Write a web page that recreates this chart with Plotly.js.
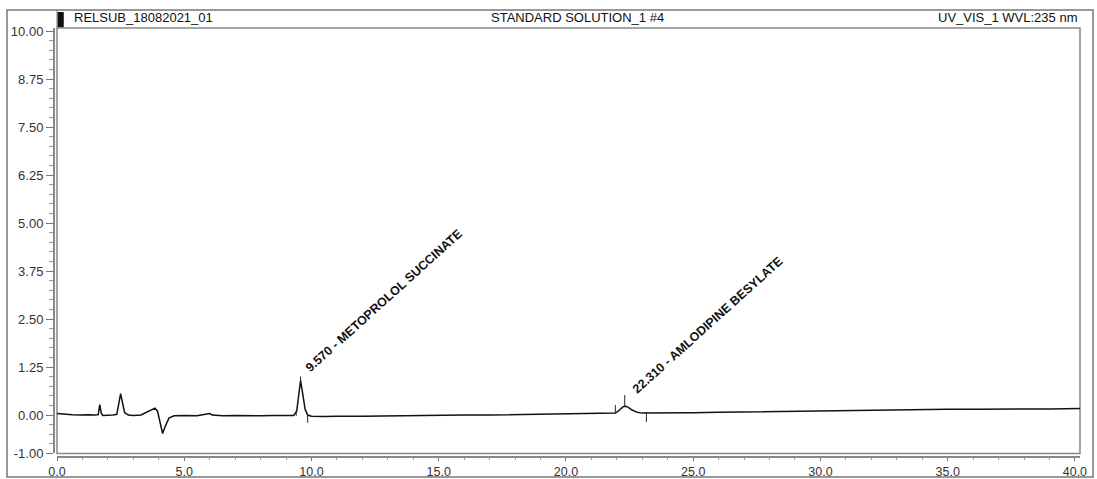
<!DOCTYPE html>
<html>
<head>
<meta charset="utf-8">
<script src="https://cdn.plot.ly/plotly-3.0.1.min.js"></script>
<style>
html,body{margin:0;padding:0;background:#fff;}
#chart{width:1097px;height:479px;}
</style>
</head>
<body>
<div id="chart"></div>
<script>
// Retention time (min) and signal
var timeMin = [0.0,0.3,0.6,0.9,1.2,1.5,1.62,1.68,1.74,1.8,2.0,2.2,2.35,2.42,2.5,2.58,2.66,2.8,3.0,3.3,3.5,3.7,3.85,3.95,4.05,4.15,4.25,4.4,4.6,5.0,5.5,5.9,6.0,6.1,6.5,7.0,7.5,8.0,8.5,9.0,9.3,9.42,9.5,9.57,9.65,9.75,9.85,10.0,10.5,11.0,12.0,13.0,14.0,15.0,16.0,17.0,18.0,19.0,20.0,21.0,21.5,21.94,22.05,22.15,22.25,22.35,22.45,22.6,22.8,23.0,23.2,24.0,25.0,26.0,27.0,28.0,29.0,30.0,31.0,32.0,33.0,34.0,35.0,36.0,37.0,38.0,39.0,40.0,40.2];
var signal  = [0.04,0.02,0.01,0.0,0.01,0.0,0.01,0.27,0.05,-0.01,-0.01,0.0,0.02,0.3,0.56,0.3,0.06,0.0,-0.01,0.0,0.07,0.13,0.18,0.1,-0.2,-0.48,-0.3,-0.08,-0.02,-0.01,-0.02,0.02,0.04,0.0,-0.02,-0.01,-0.02,-0.02,-0.01,-0.02,-0.01,0.1,0.58,0.9,0.58,0.15,0.0,-0.03,-0.04,-0.03,-0.03,-0.02,-0.02,-0.01,0.0,0.0,0.01,0.02,0.02,0.03,0.04,0.05,0.1,0.17,0.22,0.23,0.2,0.13,0.07,0.05,0.05,0.05,0.06,0.07,0.08,0.09,0.1,0.11,0.12,0.12,0.13,0.14,0.15,0.15,0.16,0.16,0.16,0.17,0.17];

// Peak delimiter marks (time, top, bottom)
var delimTime = [9.4, 9.57, 9.85, 21.94, 22.31, 23.16];
var delimTop  = [0.12, 1.0, 0.0, 0.26, 0.52, 0.08];
var delimBot  = [-0.02, 0.85, -0.2, 0.04, 0.23, -0.18];

// Peak labels
var peakTime  = [9.57, 22.31];
var peakValue = [0.92, 0.3];
var peakLabel = ["9.570 - METOPROLOL SUCCINATE", "22.310 - AMLODIPINE BESYLATE"];

// Tick labels
var yTickVals = [-1.0, 0.0, 1.25, 2.5, 3.75, 5.0, 6.25, 7.5, 8.75, 10.0];
var yTickText = ["-1.00","0.00","1.25","2.50","3.75","5.00","6.25","7.50","8.75","10.00"];
var xTickVals = [0, 5, 10, 15, 20, 25, 30, 35, 40];
var xTickText = ["0.0","5.0","10.0","15.0","20.0","25.0","30.0","35.0","40.0"];

// Header texts
var headerLeft = "RELSUB_18082021_01";
var headerCenter = "STANDARD SOLUTION_1 #4";
var headerRight = "UV_VIS_1 WVL:235 nm";

var dx = [], dy = [];
for (var i = 0; i < delimTime.length; i++) {
  dx.push(delimTime[i], delimTime[i], null);
  dy.push(delimTop[i], delimBot[i], null);
}

var font = "Liberation Sans, Arial, sans-serif";

var traces = [
  {x: timeMin, y: signal, type: 'scatter', mode: 'lines',
   line: {color: '#111', width: 1.5}, hoverinfo: 'skip'},
  {x: dx, y: dy, type: 'scatter', mode: 'lines',
   line: {color: '#222', width: 1}, hoverinfo: 'skip'}
];

var annotations = [];
for (var k = 0; k < peakTime.length; k++) {
  annotations.push({
    x: peakTime[k], y: peakValue[k], xref: 'x', yref: 'y',
    text: peakLabel[k], showarrow: true, arrowcolor: 'rgba(0,0,0,0)',
    ax: 83, ay: -79, textangle: -42,
    font: {family: font, size: 12.5, color: '#111', weight: 'bold'}
  });
}
// paper area: x 53..1080 (1027 px), y 28..456 (428 px)
annotations.push(
  {xref: 'paper', yref: 'paper', x: 0.0185, y: 1.0257, xanchor: 'left', yanchor: 'middle',
   text: headerLeft, showarrow: false, font: {family: font, size: 13, color: '#111'}},
  {xref: 'paper', yref: 'paper', x: 0.5105, y: 1.0257, xanchor: 'center', yanchor: 'middle',
   text: headerCenter, showarrow: false, font: {family: font, size: 13, color: '#111'}},
  {xref: 'paper', yref: 'paper', x: 0.9995, y: 1.0257, xanchor: 'right', yanchor: 'middle',
   text: headerRight, showarrow: false, font: {family: font, size: 13, color: '#111'}}
);

var shapes = [
  // outer frame
  {type: 'rect', xref: 'paper', yref: 'paper', x0: -0.0448, x1: 1.0127, y0: -0.0491, y1: 1.0421,
   line: {color: '#777', width: 1.5}, fillcolor: 'rgba(0,0,0,0)', layer: 'below'},
  // plot frame
  {type: 'rect', xref: 'x domain', yref: 'y domain', x0: 0, x1: 1, y0: 0, y1: 1,
   line: {color: '#888', width: 1.5}, fillcolor: 'rgba(0,0,0,0)', layer: 'below'},
  // header divider at left
  {type: 'line', xref: 'paper', yref: 'paper', x0: 0.0039, x1: 0.0039, y0: 1, y1: 1.0421,
   line: {color: '#777', width: 1}},
  // colour marker in header
  {type: 'rect', xref: 'paper', yref: 'paper', x0: 0.0045, x1: 0.0105, y0: 1.002, y1: 1.0374,
   line: {width: 0}, fillcolor: '#111'}
];

var layout = {
  width: 1097, height: 479,
  margin: {l: 53, r: 17, t: 28, b: 23, pad: 0},
  paper_bgcolor: '#fff', plot_bgcolor: '#fff',
  showlegend: false,
  font: {family: font, size: 13, color: '#333'},
  xaxis: {
    domain: [0.0039, 1], anchor: 'free', position: 0,
    range: [0, 40.2], showgrid: false, zeroline: false,
    showline: true, linecolor: '#888', linewidth: 1.5,
    tickmode: 'array', tickvals: xTickVals, ticktext: xTickText,
    ticks: 'outside', ticklen: 3, tickcolor: '#777',
    tickfont: {family: font, size: 12.5, color: '#333'},
    minor: {tickmode: 'linear', tick0: 0, dtick: 1, ticks: 'outside', ticklen: 2, tickcolor: '#999', showgrid: false}
  },
  yaxis: {
    domain: [0.006, 1], anchor: 'free', position: 0,
    range: [-1.0, 10.08], showgrid: false, zeroline: false,
    showline: true, linecolor: '#888', linewidth: 1.5,
    tickmode: 'array', tickvals: yTickVals, ticktext: yTickText,
    ticks: 'outside', ticklen: 7, tickcolor: '#777',
    tickfont: {family: font, size: 13, color: '#333'},
    minor: {tickmode: 'linear', tick0: 0, dtick: 0.25, ticks: 'outside', ticklen: 4, tickcolor: '#999', showgrid: false}
  },
  annotations: annotations,
  shapes: shapes
};

Plotly.newPlot('chart', traces, layout, {staticPlot: true, displayModeBar: false});
</script>
</body>
</html>
